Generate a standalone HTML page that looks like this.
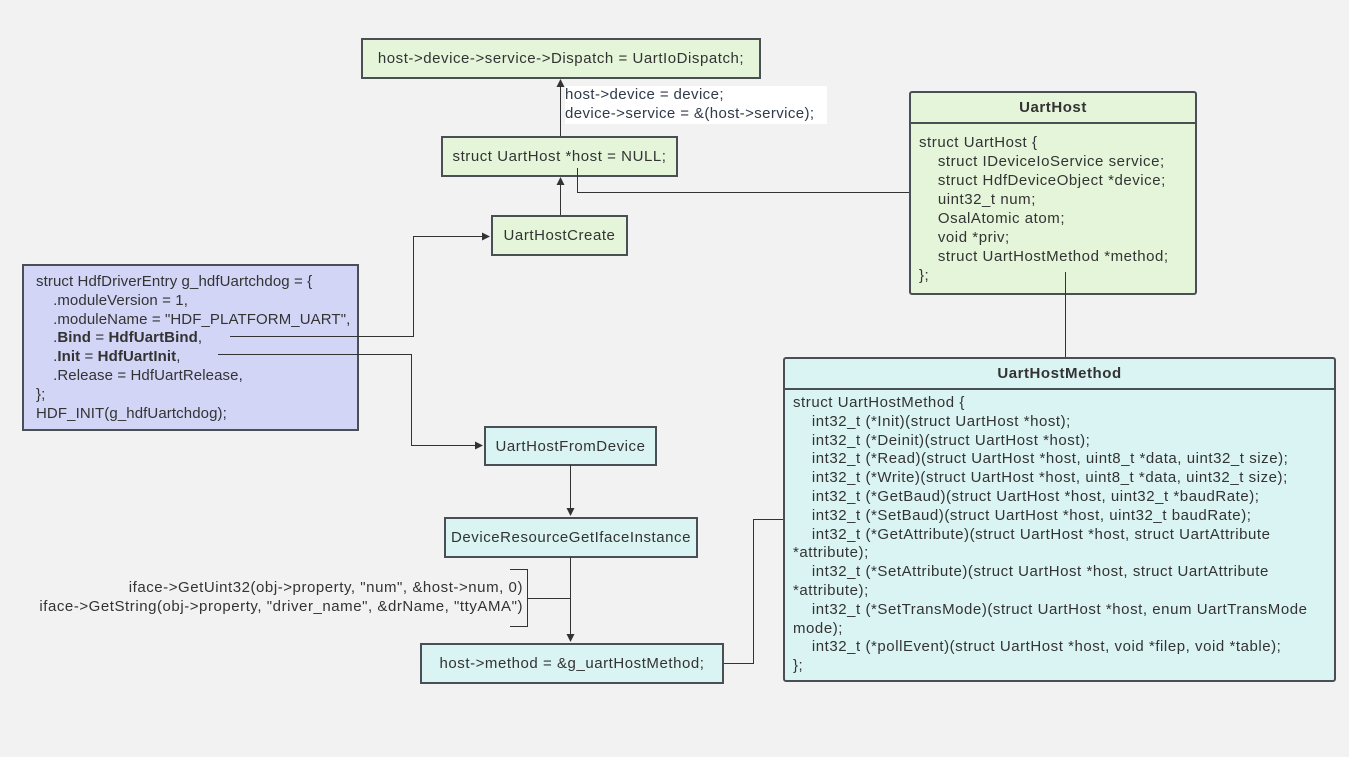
<!DOCTYPE html>
<html><head><meta charset="utf-8"><style>
body{margin:0;width:1349px;height:757px;background:#f2f2f2;position:relative;overflow:hidden;font-family:"Liberation Sans",sans-serif;font-size:15px;letter-spacing:0.55px;color:#333;}
.b{position:absolute;box-sizing:border-box;border:2px solid #4a4f55;display:flex;align-items:center;justify-content:center;white-space:nowrap;}
.g{background:#e4f5d9}.c{background:#daf4f3}.p{background:#d2d5f6}
.t{position:absolute;white-space:pre;line-height:18.8px;}
svg{position:absolute;left:0;top:0;z-index:5}
</style></head><body>
<svg width="1349" height="757">
<defs><marker id="a" markerWidth="8" markerHeight="8" refX="7" refY="4" orient="auto" markerUnits="userSpaceOnUse"><path d="M0,0 L8,4 L0,8z" fill="#333"/></marker></defs>
<g stroke="#333" stroke-width="1" fill="none">
<path d="M560.5 136 V80" marker-end="url(#a)"/>
<path d="M560.5 215 V178" marker-end="url(#a)"/>
<path d="M577.5 168 V192.5 H909"/>
<path d="M230 336.5 H413.5 V236.5 H489" marker-end="url(#a)"/>
<path d="M218 354.5 H411.5 V445.5 H482" marker-end="url(#a)"/>
<path d="M570.5 465 V515" marker-end="url(#a)"/>
<path d="M570.5 557 V641" marker-end="url(#a)"/>
<path d="M510 569.5 H527.5 V626.5 H510 M527.5 598.5 H570.5"/>
<path d="M724 663.5 H753.5 V519.5 H783"/>
<path d="M1065.5 272 V357"/>
</g>
</svg>
<div class="b g" style="left:361px;top:38px;width:400px;height:41px;">host-&gt;device-&gt;service-&gt;Dispatch = UartIoDispatch;</div>
<div class="t" style="left:565px;top:86px;width:262px;height:38px;background:#fff;color:#2f3a4a;letter-spacing:0.4px;">host-&gt;device = device;
device-&gt;service = &amp;(host-&gt;service);</div>
<div class="b g" style="left:441px;top:136px;width:237px;height:41px;">struct UartHost *host = NULL;</div>
<div class="b g" style="left:491px;top:215px;width:137px;height:41px;">UartHostCreate</div>
<div class="b p" style="left:22px;top:264px;width:337px;height:167px;display:block;">
<div class="t" style="left:12px;top:7px;letter-spacing:0.1px;">struct HdfDriverEntry g_hdfUartchdog = {
    .moduleVersion = 1,
    .moduleName = "HDF_PLATFORM_UART",
    .<b>Bind</b> = <b>HdfUartBind</b>,
    .<b>Init</b> = <b>HdfUartInit</b>,
    .Release = HdfUartRelease,
};
HDF_INIT(g_hdfUartchdog);</div></div>
<div class="b c" style="left:484px;top:426px;width:173px;height:40px;">UartHostFromDevice</div>
<div class="b c" style="left:444px;top:517px;width:254px;height:41px;">DeviceResourceGetIfaceInstance</div>
<div class="t" style="right:826px;top:578px;text-align:right;line-height:19px;">iface-&gt;GetUint32(obj-&gt;property, "num", &amp;host-&gt;num, 0)
iface-&gt;GetString(obj-&gt;property, "driver_name", &amp;drName, "ttyAMA")</div>
<div class="b c" style="left:420px;top:643px;width:304px;height:41px;">host-&gt;method = &amp;g_uartHostMethod;</div>
<div class="b g" style="left:909px;top:91px;width:288px;height:204px;border-radius:3px;display:block;">
<div style="height:29px;border-bottom:2px solid #4a4f55;text-align:center;font-weight:bold;line-height:29px;">UartHost</div>
<div class="t" style="left:8px;top:40px;line-height:19px;">struct UartHost {
    struct IDeviceIoService service;
    struct HdfDeviceObject *device;
    uint32_t num;
    OsalAtomic atom;
    void *priv;
    struct UartHostMethod *method;
};</div></div>
<div class="b c" style="left:783px;top:357px;width:553px;height:325px;border-radius:3px;display:block;">
<div style="height:29px;border-bottom:2px solid #4a4f55;text-align:center;font-weight:bold;line-height:29px;">UartHostMethod</div>
<div class="t" style="left:8px;top:35px;line-height:18.8px;">struct UartHostMethod {
    int32_t (*Init)(struct UartHost *host);
    int32_t (*Deinit)(struct UartHost *host);
    int32_t (*Read)(struct UartHost *host, uint8_t *data, uint32_t size);
    int32_t (*Write)(struct UartHost *host, uint8_t *data, uint32_t size);
    int32_t (*GetBaud)(struct UartHost *host, uint32_t *baudRate);
    int32_t (*SetBaud)(struct UartHost *host, uint32_t baudRate);
    int32_t (*GetAttribute)(struct UartHost *host, struct UartAttribute
*attribute);
    int32_t (*SetAttribute)(struct UartHost *host, struct UartAttribute
*attribute);
    int32_t (*SetTransMode)(struct UartHost *host, enum UartTransMode
mode);
    int32_t (*pollEvent)(struct UartHost *host, void *filep, void *table);
};</div></div>
</body></html>
